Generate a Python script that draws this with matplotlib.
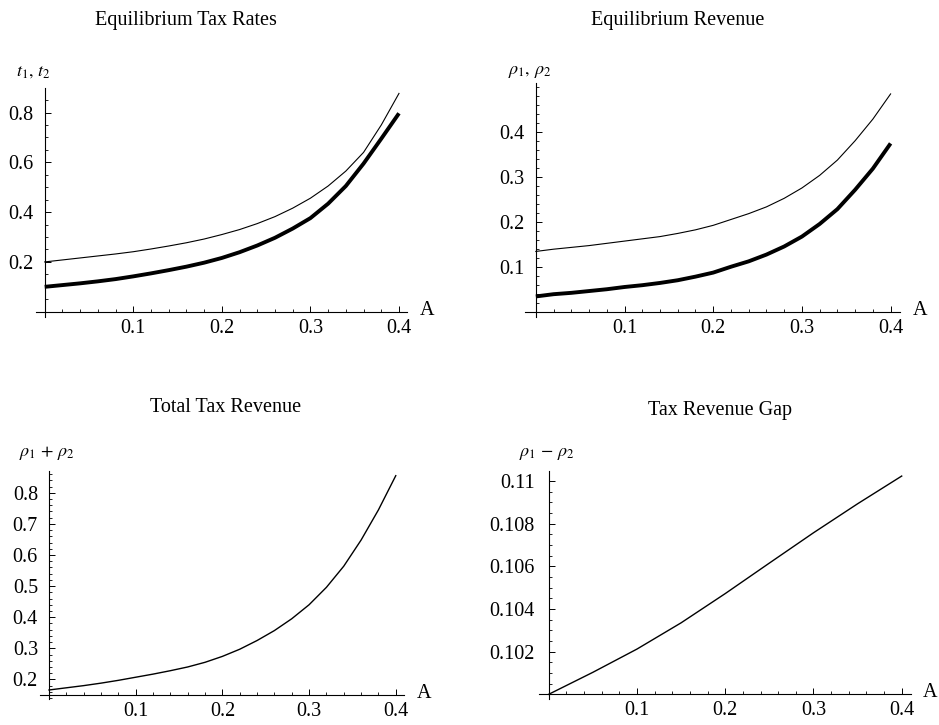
import numpy as np
import matplotlib
matplotlib.use('Agg')
import matplotlib.pyplot as plt
from matplotlib.ticker import FixedLocator, MultipleLocator, FormatStrFormatter

plt.rcParams['font.family'] = 'Liberation Serif'
plt.rcParams['mathtext.fontset'] = 'stix'

# common grid in A
A = [0.00, 0.02, 0.04, 0.06, 0.08, 0.10, 0.12, 0.14, 0.16, 0.18, 0.20,
     0.22, 0.24, 0.26, 0.28, 0.30, 0.32, 0.34, 0.36, 0.38, 0.40]

# equilibrium tax rates t1 (thin) and t2 (thick)
t1 = [0.200, 0.208, 0.216, 0.224, 0.232, 0.241, 0.252, 0.264, 0.277, 0.292, 0.310,
      0.330, 0.354, 0.382, 0.416, 0.456, 0.505, 0.565, 0.640, 0.750, 0.877]
t2 = [0.100, 0.107, 0.114, 0.122, 0.131, 0.142, 0.154, 0.167, 0.181, 0.197, 0.216,
      0.239, 0.266, 0.297, 0.334, 0.376, 0.434, 0.505, 0.595, 0.695, 0.797]

# equilibrium revenue rho1 (thin) and rho2 (thick)
rho1 = [0.134, 0.139, 0.143, 0.147, 0.152, 0.157, 0.162, 0.167, 0.174, 0.182, 0.192,
        0.205, 0.218, 0.233, 0.252, 0.275, 0.303, 0.337, 0.380, 0.428, 0.484]
rho2 = [0.034, 0.039, 0.042, 0.046, 0.050, 0.055, 0.059, 0.064, 0.070, 0.078, 0.087,
        0.100, 0.112, 0.127, 0.145, 0.167, 0.195, 0.228, 0.271, 0.318, 0.374]

# total revenue rho1 + rho2
rho_sum = [0.166, 0.173, 0.180, 0.188, 0.197, 0.207, 0.217, 0.228, 0.240, 0.255, 0.274,
           0.297, 0.325, 0.357, 0.395, 0.440, 0.496, 0.564, 0.648, 0.745, 0.855]

# revenue gap rho1 - rho2
A_gap = [0.00, 0.05, 0.10, 0.15, 0.20, 0.25, 0.30, 0.35, 0.40]
rho_gap = [0.10000, 0.10103, 0.10212, 0.10335, 0.10472, 0.10615, 0.10757, 0.10893, 0.11023]

x_ticks = [0.1, 0.2, 0.3, 0.4]

W, H = 939, 725
fig = plt.figure(figsize=(W / 100.0, H / 100.0), dpi=100)


def px_axes(x0, y0, x1, y1):
    return fig.add_axes([x0 / W, 1 - y1 / H, (x1 - x0) / W, (y1 - y0) / H])


def px_text(x, y, s, **kw):
    fig.text(x / W, 1 - y / H, s, ha='center', va='center', **kw)


def style_axes(ax, xlim, ylim, base, yticks, yminor, ypad=8):
    ax.set_xlim(xlim)
    ax.set_ylim(ylim)
    for side in ['top', 'right']:
        ax.spines[side].set_visible(False)
    ax.spines['left'].set_position(('data', 0))
    ax.spines['bottom'].set_position(('data', base))
    for side in ['left', 'bottom']:
        ax.spines[side].set_linewidth(0.8)
    ax.xaxis.set_major_locator(FixedLocator(x_ticks))
    ax.xaxis.set_minor_locator(FixedLocator([v for v in np.arange(0.02, 0.41, 0.02)
                                             if abs(v * 10 - round(v * 10)) > 1e-6]))
    ax.yaxis.set_major_locator(FixedLocator(yticks))
    ax.yaxis.set_minor_locator(MultipleLocator(yminor))
    ax.xaxis.set_major_formatter(FormatStrFormatter('%.1f'))
    ax.yaxis.set_major_formatter(FormatStrFormatter('%.1f'))
    ax.tick_params(which='major', direction='in', length=4, width=0.7, labelsize=14.5)
    ax.tick_params(which='minor', direction='in', length=2.3, width=0.6)
    ax.tick_params(axis='x', which='major', pad=5)
    ax.tick_params(axis='y', which='major', pad=ypad)
    ax.patch.set_visible(False)
    ax.annotate('A', xy=(1, base), xycoords=('axes fraction', 'data'),
                xytext=(9, 1), textcoords='offset points', va='center', ha='left', fontsize=14.5)


# top left: tax rates
ax1 = px_axes(36, 88.3, 407.3, 316.7)
ax1.plot(A, t1, color='black', lw=0.8)
ax1.plot(A, t2, color='black', lw=2.8, solid_capstyle='butt')
style_axes(ax1, (-0.0098, 0.4094), (-0.02, 0.8975), 0, [0.2, 0.4, 0.6, 0.8], 0.05)

# top right: revenue
ax2 = px_axes(525, 83.3, 900, 316.7)
ax2.plot(A, rho1, color='black', lw=0.8)
ax2.plot(A, rho2, color='black', lw=2.8, solid_capstyle='butt')
style_axes(ax2, (-0.0122, 0.4106), (-0.011, 0.5076), 0, [0.1, 0.2, 0.3, 0.4], 0.02)

# bottom left: total revenue
ax3 = px_axes(40, 470.7, 404, 699)
ax3.plot(A, rho_sum, color='black', lw=1.0)
style_axes(ax3, (-0.0104, 0.4095), (0.137, 0.871), 0.15,
           [0.2, 0.3, 0.4, 0.5, 0.6, 0.7, 0.8], 0.02)

# bottom right: revenue gap
ax4 = px_axes(539, 470.7, 910.7, 699)
ax4.plot(A_gap, rho_gap, color='black', lw=1.0)
style_axes(ax4, (-0.011, 0.4102), (0.09978, 0.110481), 0.1,
           [0.102, 0.104, 0.106, 0.108, 0.110], 0.0005, ypad=10)
ax4.set_yticklabels(['0.102', '0.104', '0.106', '0.108', '0.11'])

# panel titles
px_text(186, 20, 'Equilibrium Tax Rates', fontsize=14.5)
px_text(678, 20, 'Equilibrium Revenue', fontsize=14.5)
px_text(226, 408, 'Total Tax Revenue', fontsize=14.5)
px_text(720, 410, 'Tax Revenue Gap', fontsize=14.5)

# axis labels
px_text(33, 72, r'$t_{1},\, t_{2}$', fontsize=13)
px_text(530, 72, r'$\rho_{1},\, \rho_{2}$', fontsize=13)
px_text(47, 453, r'$\rho_{1}\,+\,\rho_{2}$', fontsize=13)
px_text(547, 453, r'$\rho_{1}\,-\,\rho_{2}$', fontsize=13)

fig.savefig('out.png', dpi=100)
